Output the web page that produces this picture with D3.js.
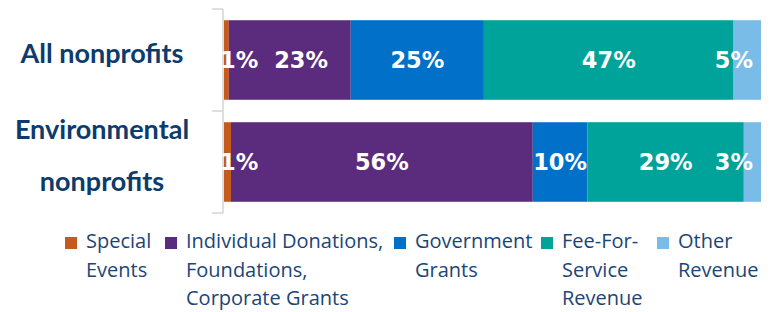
<!DOCTYPE html>
<html><head><meta charset="utf-8">
<script src="https://cdn.jsdelivr.net/npm/d3@7"></script>
<style>body{margin:0;background:#fff}svg{display:block}</style>
</head><body>
<svg id="c" width="771" height="312"></svg>
<script>
const categories = [["All nonprofits"], ["Environmental", "nonprofits"]];
const series = ["Special Events", "Individual Donations, Foundations, Corporate Grants", "Government Grants", "Fee-For-Service Revenue", "Other Revenue"];
const legendLines = [["Special", "Events"], ["Individual Donations,", "Foundations,", "Corporate Grants"], ["Government", "Grants"], ["Fee-For-", "Service", "Revenue"], ["Other", "Revenue"]];
const specialEvents = [0.9, 1.3];
const individualDonations = [22.7, 56.2];
const governmentGrants = [24.8, 10.2];
const feeForService = [46.5, 29.1];
const otherRevenue = [5.1, 3.2];
const colors = ["#C55A1E", "#5B2C7E", "#0070C8", "#00A39A", "#7ABCE8"];

const svg = d3.select("#c");
const keys = series;
const valuesBySeries = [specialEvents, individualDonations, governmentGrants, feeForService, otherRevenue];
const rows = categories.map((c, i) => {
  const o = {cat: i};
  keys.forEach((k, j) => o[k] = valuesBySeries[j][i]);
  return o;
});
const stacked = d3.stack().keys(keys).offset(d3.stackOffsetExpand)(rows);

const x = d3.scaleLinear().domain([0, 1]).range([224, 761]);
const y = d3.scaleBand().domain(d3.range(categories.length)).range([9, 213]).paddingInner(0.22).paddingOuter(0.11);

// axis line and ticks between categories
const axisColor = "#D4D4D4";
svg.append("line").attr("x1", 223).attr("x2", 223).attr("y1", 9).attr("y2", 213).attr("stroke", axisColor).attr("stroke-width", 1.5);
const tickYs = [y.range()[0], (y(0) + y.bandwidth() + y(1)) / 2, y.range()[1]];
svg.selectAll(".tick").data(tickYs).join("line")
  .attr("x1", 212).attr("x2", 223).attr("y1", d => d).attr("y2", d => d)
  .attr("stroke", axisColor).attr("stroke-width", 1.5);

// bars
const g = svg.append("g");
stacked.forEach((s, j) => {
  g.selectAll(null).data(s).join("rect")
    .attr("x", d => x(d[0]))
    .attr("width", d => x(d[1]) - x(d[0]))
    .attr("y", (d, i) => y(i))
    .attr("height", y.bandwidth())
    .attr("fill", colors[j]);
});

// value labels
const lg = svg.append("g").attr("font-family", "'DejaVu Sans', sans-serif").attr("font-weight", 700).attr("font-size", 22.5).attr("fill", "#fff");
categories.forEach((c, i) => {
  let prevEnd = -Infinity;
  const items = stacked.map((s, j) => ({j, d: s[i], v: valuesBySeries[j][i]}));
  items.forEach(it => {
    const t = lg.append("text").text(Math.round(it.v) + "%").attr("text-anchor", "middle")
      .attr("y", y(i) + y.bandwidth() / 2 + 7.5);
    const w = t.node().getComputedTextLength();
    let cx = (x(it.d[0]) + x(it.d[1])) / 2;
    cx = Math.max(cx, x(0) + w / 2 - 4);
    cx = Math.min(cx, x(1) - w / 2 - 8);
    if (cx - w / 2 < prevEnd + 16) cx = prevEnd + 16 + w / 2;
    prevEnd = cx + w / 2;
    t.attr("x", cx);
  });
});

// category labels
const cg = svg.append("g").attr("font-family", "Lato, sans-serif").attr("font-weight", 700).attr("font-size", 27).attr("fill", "#0D3B6C").attr("text-anchor", "middle");
categories.forEach((lines, i) => {
  const cy = y(i) + y.bandwidth() / 2;
  const lh = 52.4;
  lines.forEach((ln, k) => {
    cg.append("text").text(ln).attr("x", 102)
      .attr("y", cy + 3 + (k - (lines.length - 1) / 2) * lh);
  });
});

// legend
const legX = [65, 165, 394, 541, 657];
const leg = svg.append("g").attr("font-family", "'Open Sans', sans-serif").attr("font-size", 20).attr("fill", "#1A4676");
series.forEach((s, j) => {
  leg.append("rect").attr("x", legX[j]).attr("y", 237).attr("width", 12).attr("height", 12).attr("fill", colors[j]);
  legendLines[j].forEach((ln, k) => {
    leg.append("text").text(ln).attr("x", legX[j] + 21).attr("y", 248 + k * 28.5);
  });
});
</script>
</body></html>
